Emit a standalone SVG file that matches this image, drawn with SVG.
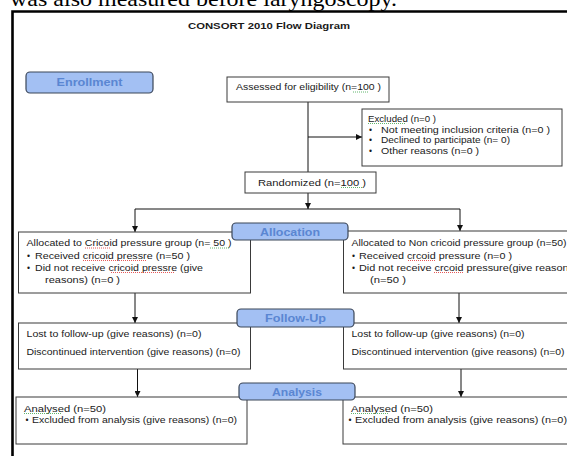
<svg xmlns="http://www.w3.org/2000/svg" width="567" height="456" viewBox="0 0 567 456">
<style>
.t{font-family:"Liberation Sans",Arial,sans-serif;font-size:8.6px;fill:#1a1a1a}
.box{fill:#fff;stroke:#3a3a3a;stroke-width:1}
.lab{fill:#a3c0f3;stroke:#3b4658;stroke-width:1.2}
.lt{font-family:"Liberation Sans",Arial,sans-serif;font-size:11px;font-weight:bold;fill:#5a86d2;text-anchor:middle}
.ln{stroke:#111;stroke-width:1;fill:none}
.gw{stroke:#3aa34a;stroke-width:0.8;fill:none;stroke-dasharray:1 1}
.rw{stroke:#e03030;stroke-width:0.8;fill:none;stroke-dasharray:1 1}
</style>
<defs>
<marker id="ah" viewBox="0 0 6 6" refX="6" refY="3" markerWidth="6" markerHeight="6" orient="auto" markerUnits="userSpaceOnUse">
<path d="M0,0 L6,3 L0,6 z" fill="#111"/>
</marker>
</defs>
<rect x="0" y="0" width="567" height="456" fill="#fff"/>
<text x="10" y="6" font-family="Liberation Serif,serif" font-size="21" fill="#000" textLength="387" lengthAdjust="spacingAndGlyphs">was also measured before laryngoscopy.</text>
<path d="M12.5,456 V11.5 H567" fill="none" stroke="#000" stroke-width="2.6"/>
<text x="269" y="28.5" font-family="Liberation Sans,Arial,sans-serif" font-size="9.5" font-weight="bold" fill="#1a1a1a" text-anchor="middle" textLength="162" lengthAdjust="spacingAndGlyphs">CONSORT 2010  Flow Diagram</text>

<g id="connectors">
<path class="ln" d="M308,102 V172"/>
<path class="ln" d="M308,137 H362" marker-end="url(#ah)"/>
<path class="ln" d="M308,193 V209" marker-end="url(#ah)"/>
<path class="ln" d="M135,209 H460"/>
<path class="ln" d="M135,209 V232" marker-end="url(#ah)"/>
<path class="ln" d="M460,209 V231" marker-end="url(#ah)"/>
<path class="ln" d="M135,293 V323" marker-end="url(#ah)"/>
<path class="ln" d="M459,293 V323" marker-end="url(#ah)"/>
<path class="ln" d="M137.5,369 V397" marker-end="url(#ah)"/>
<path class="ln" d="M461,369 V397" marker-end="url(#ah)"/>
</g>

<g id="enrollment">
<rect class="lab" x="26" y="72" width="127" height="21" rx="4"/>
<text class="lt" x="89.5" y="86" textLength="66" lengthAdjust="spacingAndGlyphs">Enrollment</text>
</g>

<g id="assessed">
<rect class="box" x="227" y="77" width="162" height="25"/>
<text class="t" x="236" y="90" textLength="145" lengthAdjust="spacingAndGlyphs">Assessed for eligibility (n=100 )</text>
<path class="gw" d="M353,92 H368"/>
</g>

<g id="excluded">
<rect class="box" x="362" y="109" width="200" height="57"/>
<text class="t" x="368" y="121.5" font-size="8.6" textLength="68" lengthAdjust="spacingAndGlyphs">Excluded  (n=0  )</text>
<path class="gw" d="M368,123.5 H406"/>
<text class="t" x="369" y="132.5">•</text>
<text class="t" x="381" y="132.5" textLength="169" lengthAdjust="spacingAndGlyphs">Not meeting inclusion criteria (n=0  )</text>
<text class="t" x="369" y="143">•</text>
<text class="t" x="381" y="143" textLength="129" lengthAdjust="spacingAndGlyphs">Declined to participate (n= 0)</text>
<text class="t" x="369" y="153.5">•</text>
<text class="t" x="381" y="153.5" textLength="98" lengthAdjust="spacingAndGlyphs">Other reasons (n=0 )</text>
</g>

<g id="randomized">
<rect class="box" x="245" y="172" width="131" height="21"/>
<text class="t" x="258" y="185.5" textLength="108" lengthAdjust="spacingAndGlyphs">Randomized (n=100 )</text>
<path class="gw" d="M341,187.5 H363"/>
</g>

<g id="alloc-left">
<rect class="box" x="18.5" y="232" width="232" height="61"/>
<text class="t" x="26.5" y="246" textLength="205" lengthAdjust="spacingAndGlyphs">Allocated to Cricoid pressure group (n= 50  )</text>
<path class="rw" d="M85,248 H111"/>
<path class="gw" d="M210,248 H230"/>
<text class="t" x="27" y="258.5">•</text>
<text class="t" x="35" y="258.5" textLength="155" lengthAdjust="spacingAndGlyphs">Received cricoid pressre (n=50  )</text>
<path class="rw" d="M83,260.5 H146"/>
<text class="t" x="27" y="270.5">•</text>
<text class="t" x="35" y="270.5" textLength="168" lengthAdjust="spacingAndGlyphs">Did not receive cricoid pressre (give</text>
<path class="rw" d="M111,272.5 H175"/>
<text class="t" x="45" y="282.5" textLength="75" lengthAdjust="spacingAndGlyphs">reasons) (n=0  )</text>
</g>

<g id="alloc-right">
<rect class="box" x="343.5" y="231" width="240" height="62"/>
<text class="t" x="351.5" y="246" textLength="215" lengthAdjust="spacingAndGlyphs">Allocated to Non cricoid pressure group (n=50)</text>
<text class="t" x="352" y="258.5">•</text>
<text class="t" x="359" y="258.5" textLength="153" lengthAdjust="spacingAndGlyphs">Received crcoid pressure (n=0  )</text>
<path class="rw" d="M408,260.5 H436"/>
<text class="t" x="352" y="270.5">•</text>
<text class="t" x="359" y="270.5" textLength="215" lengthAdjust="spacingAndGlyphs">Did not receive crcoid pressure(give reasons</text>
<path class="rw" d="M434,272.5 H463"/>
<text class="t" x="370" y="282.5" textLength="36" lengthAdjust="spacingAndGlyphs">(n=50  )</text>
</g>

<g id="allocation">
<rect class="lab" x="232" y="223" width="116" height="17" rx="4"/>
<text class="lt" x="290" y="235.5" textLength="60" lengthAdjust="spacingAndGlyphs">Allocation</text>
</g>

<g id="follow-left">
<rect class="box" x="18.5" y="323" width="232" height="46"/>
<text class="t" x="26.5" y="336.5" textLength="175" lengthAdjust="spacingAndGlyphs">Lost to follow-up (give reasons) (n=0)</text>
<text class="t" x="26.5" y="355" textLength="214" lengthAdjust="spacingAndGlyphs">Discontinued intervention (give reasons) (n=0)</text>
</g>

<g id="follow-right">
<rect class="box" x="343.5" y="323" width="240" height="46"/>
<text class="t" x="351.5" y="336.5" textLength="173" lengthAdjust="spacingAndGlyphs">Lost to follow-up (give reasons) (n=0)</text>
<text class="t" x="351.5" y="355" textLength="213" lengthAdjust="spacingAndGlyphs">Discontinued intervention (give reasons) (n=0)</text>
</g>

<g id="followup">
<rect class="lab" x="237" y="309" width="117" height="18" rx="4"/>
<text class="lt" x="295.5" y="321.5" textLength="61" lengthAdjust="spacingAndGlyphs">Follow-Up</text>
</g>

<g id="analysis-left">
<rect class="box" x="16" y="397" width="231" height="47"/>
<text class="t" x="24" y="411.5" textLength="82" lengthAdjust="spacingAndGlyphs">Analysed  (n=50)</text>
<path class="gw" d="M24,413.5 H62"/>
<text class="t" x="25.5" y="423">•</text>
<text class="t" x="32" y="423" textLength="205" lengthAdjust="spacingAndGlyphs">Excluded from analysis (give reasons) (n=0)</text>
</g>

<g id="analysis-right">
<rect class="box" x="343" y="397" width="240" height="47"/>
<text class="t" x="351" y="411.5" textLength="82" lengthAdjust="spacingAndGlyphs">Analysed  (n=50)</text>
<path class="gw" d="M351,413.5 H389"/>
<text class="t" x="348.5" y="423">•</text>
<text class="t" x="355" y="423" textLength="212" lengthAdjust="spacingAndGlyphs">Excluded from analysis (give reasons) (n=0)</text>
</g>

<g id="analysis">
<rect class="lab" x="239" y="383" width="116" height="17" rx="4"/>
<text class="lt" x="297" y="396" textLength="50" lengthAdjust="spacingAndGlyphs">Analysis</text>
</g>
</svg>
